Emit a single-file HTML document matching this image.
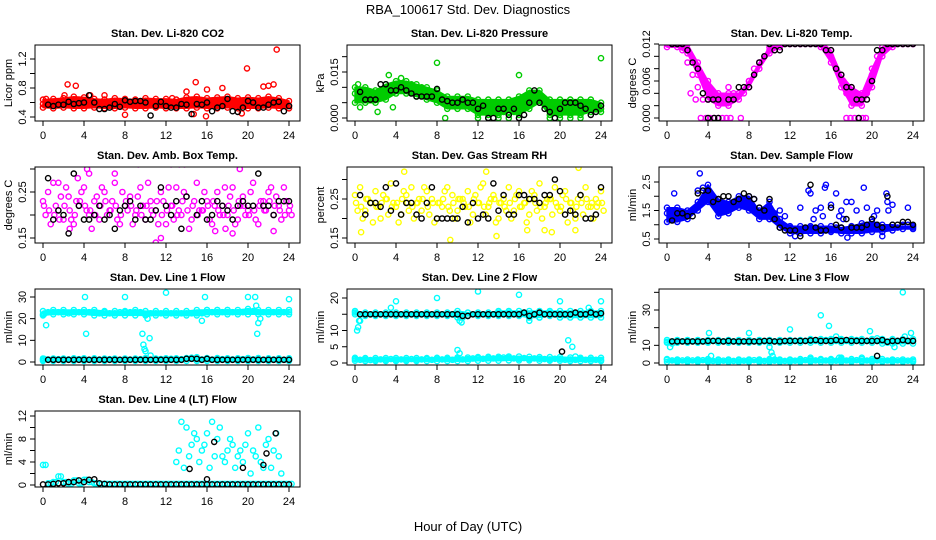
<!DOCTYPE html>
<html><head><meta charset="utf-8"><style>
html,body{margin:0;padding:0;background:#fff;}
svg{display:block;font-family:"Liberation Sans",Arial,sans-serif;}
</style></head><body>
<svg id="chart" width="936" height="540" viewBox="0 0 936 540" xmlns="http://www.w3.org/2000/svg">
<text x="468" y="14" text-anchor="middle" font-size="13">RBA_100617  Std. Dev. Diagnostics</text>
<text x="468" y="531" text-anchor="middle" font-size="13">Hour of Day (UTC)</text>
</svg>
<script>
// ---------- data ----------
const hourTicks = [0,4,8,12,16,20,24];
// P1 CO2
const co2Mid = [0.58,0.57,0.59,0.58,0.60,0.57,0.58,0.60,0.59,0.58,0.57,0.59,0.58,0.60,0.57,0.58,0.59,0.57,0.58,0.60,0.58,0.57,0.59,0.58,0.57,0.58,0.60,0.57,0.59,0.58,0.60,0.58,0.59,0.57,0.58,0.60,0.58,0.59,0.57,0.60,0.58,0.59,0.57,0.58,0.60,0.59,0.57,0.58,0.56];
const co2Hi = [0.64,0.65,0.66,0.68,0.67,0.65,0.64,0.66,0.65,0.64,0.66,0.65,0.65,0.64,0.67,0.68,0.66,0.67,0.68,0.66,0.67,0.66,0.68,0.66,0.62];
const co2Lo = [0.53,0.52,0.53,0.52,0.52,0.53,0.52,0.52,0.53,0.52,0.52,0.53,0.52,0.52,0.52,0.53,0.52,0.52,0.53,0.52,0.52,0.52,0.53,0.52,0.52];
const co2Out = [[2.4,0.85],[3.2,0.83],[14.9,0.88],[19.9,1.07],[22.8,1.33],[21.5,0.82],[22,0.83],[22.5,0.85],[17.5,0.8],[16,0.78],[14,0.75],[14.7,0.44],[15.9,0.41],[8,0.43],[4.6,0.7],[6,0.7],[0.3,0.65],[2.1,0.70],[12.6,0.66],[19.4,0.45]];
const co2Black = [null,0.57,0.55,0.57,0.57,0.61,0.58,0.59,0.60,0.70,0.60,0.51,0.51,0.53,0.58,0.54,0.63,0.61,0.62,0.62,0.60,0.42,0.55,0.61,0.55,0.53,0.53,0.58,0.57,0.44,0.58,0.57,0.60,0.48,0.53,0.55,0.65,0.48,0.47,0.53,0.62,0.60,0.53,0.53,0.57,0.60,0.61,0.48,0.55];
// P2 pressure
const presMid = [0.008,0.007,0.006,0.007,0.007,0.008,0.008,0.009,0.010,0.011,0.011,0.011,0.010,0.010,0.009,0.008,0.008,0.007,0.006,0.006,0.005,0.005,0.006,0.005,0.005,0.004,0.003,0.003,0.004,0.002,0.003,0.002,0.003,0.004,0.004,0.007,0.008,0.005,0.004,0.003,0.002,0.004,0.005,0.003,0.004,0.003,0.003,0.004,0.003];
const presHi = [0.010,0.010,0.009,0.011,0.012,0.012,0.011,0.010,0.009,0.007,0.007,0.007,0.006,0.006,0.006,0.006,0.007,0.009,0.009,0.006,0.006,0.006,0.006,0.006,0.005];
const presLo = [0.005,0.005,0.005,0.006,0.008,0.008,0.007,0.006,0.005,0.003,0.003,0.003,0.001,0.001,0.001,0.002,0.001,0.003,0.005,0.001,0.001,0.001,0.001,0.002,0.002];
const presOut = [[8,0.018],[16,0.014],[24,0.0195],[3.3,0.014],[2.2,0.002],[0.3,0.011],[0.5,0.0035],[8.8,0.0],[3.7,0.0035],[12,0],[13,0],[14,0],[15,0],[19,0],[20,0],[21,0],[22,0],[4.5,0.013]];
const presBlack = [null,0.0085,0.006,0.006,0.006,0.011,0.011,0.009,0.009,0.010,0.009,0.008,0.007,0.007,0.007,0.007,0.0095,0.006,0.0055,0.005,0.005,0.006,0.005,0.005,0.003,0.004,0.000,0.000,0.003,0.003,0.001,0.003,0.000,0.001,0.005,0.009,0.005,0.003,0.002,0.000,0.003,0.005,0.005,0.005,0.004,0.003,0.001,0.002,0.004];
// P3 Li-820 temp
const tempMid = [0.012,0.012,0.012,0.011,0.009,0.007,0.005,0.003,0.003,0.003,0.003,0.003,0.003,0.004,0.004,0.004,0.006,0.008,0.009,0.010,0.011,0.011,0.012,0.012,0.012,0.012,0.012,0.012,0.012,0.012,0.012,0.011,0.010,0.008,0.006,0.004,0.003,0.003,0.003,0.004,0.007,0.010,0.011,0.012,0.012,0.012,0.012,0.012,0.012];
const tempHi = [0.013,0.013,0.012,0.009,0.006,0.004,0.004,0.004,0.006,0.009,0.0115,0.0125,0.013,0.013,0.013,0.0125,0.011,0.007,0.005,0.004,0.008,0.0115,0.0125,0.013,0.013];
const tempLo = [0.0115,0.0115,0.0105,0.007,0.003,0.002,0.002,0.003,0.005,0.008,0.0105,0.0115,0.012,0.012,0.012,0.0115,0.009,0.005,0.002,0.002,0.005,0.010,0.0115,0.012,0.012];
const tempOut = [[3.3,0],[3.8,0],[4.2,0],[4.6,0],[5,0],[5.4,0],[5.8,0],[6.2,0],[7.2,0],[17.5,0],[17.9,0],[18.3,0],[18.7,0],[19.1,0],[19.4,0],[2.3,0.004],[2.8,0.003],[6,0.005],[17.2,0.006]];
const tempBlack = [null,0.012,0.012,0.012,0.011,0.009,0.008,0.004,0.003,0.003,0.003,null,0.003,0.003,0.005,0.005,0.005,0.007,0.009,0.010,0.012,0.011,0.011,0.012,0.012,0.012,0.012,0.012,0.012,0.012,0.012,0.011,0.011,0.008,0.007,0.005,0.005,0.003,0.003,0.003,0.006,0.011,0.011,0.012,0.012,0.012,0.012,0.012,0.012];
const tempBlackOut = [[4,0],[4.6,0],[5,0],[18.7,0]];
// P4 ambient box temp
const ambA = [0.23,0.25,0.27,0.21,0.19,0.24,0.18,0.22,0.26,0.20,0.23,0.19,0.25,0.21,0.27,0.18,0.22,0.24,0.20,0.26,0.19,0.23,0.21,0.25,0.18,0.22,0.26,0.20,0.24,0.19,0.27,0.21,0.23,0.18,0.25,0.22,0.20,0.26,0.19,0.24,0.21,0.27,0.18,0.23,0.25,0.20,0.22,0.26,0.21];
const ambB = [0.20,0.18,0.22,0.24,0.26,0.19,0.23,0.25,0.21,0.17,0.24,0.26,0.20,0.23,0.19,0.25,0.21,0.18,0.24,0.22,0.27,0.20,0.18,0.23,0.26,0.19,0.21,0.25,0.17,0.23,0.21,0.25,0.19,0.22,0.20,0.26,0.24,0.18,0.22,0.20,0.25,0.19,0.23,0.21,0.26,0.24,0.19,0.23,0.20];
const ambC = [0.22,0.21,0.20,0.19,0.22,0.21,0.20,0.23,0.22,0.21,0.20,0.22,0.23,0.21,0.22,0.20,0.23,0.22,0.21,0.20,0.22,0.21,0.23,0.20,0.21,0.22,0.20,0.23,0.21,0.22,0.20,0.21,0.22,0.23,0.21,0.20,0.22,0.21,0.23,0.22,0.20,0.21,0.22,0.21,0.23,0.22,0.21,0.20,0.22];
const ambOut = [[2.6,0.17],[4.3,0.30],[4.5,0.29],[9.3,0.31],[11,0.14],[11.5,0.15],[12.5,0.31],[13.3,0.31],[13.8,0.31],[22,0.32],[19.2,0.30],[22.5,0.165],[16.8,0.165],[17.8,0.17],[18.5,0.16],[7,0.29],[1.5,0.27],[3.4,0.28]];
const ambBlack = [null,0.28,0.19,0.21,0.20,0.16,0.29,0.22,0.19,0.19,0.20,0.22,0.19,0.20,0.17,0.21,0.22,0.23,0.19,0.22,0.19,0.19,0.21,0.26,0.22,0.20,0.23,0.17,0.24,null,0.20,0.23,0.19,0.20,0.23,0.22,0.21,0.19,0.22,0.23,0.22,0.22,0.29,0.22,0.22,0.20,0.23,0.23,0.23];
// P5 gas stream RH
const rhA = [0.26,0.28,0.22,0.24,0.27,0.20,0.25,0.29,0.23,0.21,0.26,0.28,0.24,0.22,0.27,0.25,0.20,0.23,0.28,0.26,0.22,0.25,0.27,0.21,0.24,0.29,0.23,0.26,0.20,0.25,0.28,0.22,0.27,0.24,0.21,0.26,0.29,0.23,0.25,0.28,0.22,0.27,0.24,0.20,0.26,0.28,0.23,0.25,0.27];
const rhB = [0.22,0.20,0.25,0.19,0.23,0.26,0.21,0.24,0.19,0.27,0.22,0.20,0.25,0.28,0.21,0.19,0.24,0.27,0.22,0.20,0.25,0.23,0.19,0.26,0.28,0.21,0.25,0.19,0.24,0.22,0.20,0.26,0.23,0.19,0.27,0.22,0.20,0.25,0.21,0.23,0.26,0.19,0.22,0.25,0.21,0.23,0.20,0.24,0.22];
const rhC = [0.24,0.23,0.25,0.24,0.23,0.24,0.25,0.23,0.24,0.25,0.24,0.23,0.24,0.25,0.23,0.24,0.24,0.25,0.23,0.24,0.25,0.24,0.23,0.25,0.24,0.23,0.24,0.25,0.24,0.23,0.24,0.25,0.23,0.24,0.25,0.24,0.23,0.24,0.25,0.24,0.23,0.25,0.24,0.23,0.24,0.25,0.24,0.23,0.24];
const rhOut = [[0.6,0.165],[9.3,0.145],[13.8,0.155],[16.8,0.17],[17,0.34],[20,0.35],[21.8,0.33],[4.8,0.32],[12.8,0.32],[18.5,0.17],[19.2,0.165],[21.5,0.17]];
const rhBlack = [null,0.26,0.21,0.24,0.24,0.23,0.28,0.22,0.29,0.21,0.24,0.24,0.21,0.20,0.24,0.28,0.20,0.20,0.20,0.20,0.20,0.23,0.19,0.24,0.20,0.21,0.20,0.29,0.22,0.26,0.21,0.21,0.26,0.26,0.25,0.25,0.24,0.26,0.26,0.30,0.27,0.21,0.22,0.21,0.26,0.20,0.20,0.21,0.28];
// P6 sample flow
const sfMid = [1.4,1.3,1.3,1.3,1.4,1.5,2.2,2.3,2.1,1.9,1.6,1.7,1.6,1.8,1.9,1.8,1.7,1.9,1.6,1.3,1.2,1.4,1.5,1.3,0.9,0.8,0.8,0.8,0.9,0.8,0.8,0.8,0.8,0.9,0.8,0.8,0.8,0.8,0.9,0.9,1.0,1.0,0.9,0.9,0.9,0.9,1.0,1.0,0.9];
const sfHi = [1.6,1.6,1.5,1.8,2.4,1.9,1.8,2.0,2.0,1.5,1.8,1.2,0.95,0.95,0.95,0.95,0.95,0.9,0.95,1.05,1.1,1.0,1.0,0.95,0.95];
const sfLo = [1.1,1.1,1.2,1.5,1.8,1.3,1.4,1.6,1.5,1.2,1.2,0.9,0.7,0.7,0.7,0.7,0.75,0.7,0.7,0.7,0.75,0.75,0.8,0.85,0.85];
const sfOut = [[3.2,2.8],[13.8,2.2],[14,2.1],[15.5,2.4],[15.4,2.3],[16.5,2.1],[17.5,1.8],[18,1.8],[19.2,2.3],[21.4,2.1],[21.5,1.8],[22,1.7],[23.5,1.6],[14.5,1.5],[15,1.6],[13,1.6],[16,1.7],[18.5,1.5],[19.5,1.6],[20.5,1.5],[21.6,1.5],[16.8,1.3],[17,1.5],[0.7,2.1],[14.3,1.2],[15.2,1.3],[17.2,1.2],[20.2,1.3],[17.6,0.55],[12.5,0.6],[21,0.6]];
const sfBlack = [null,1.15,1.4,1.4,1.3,1.3,2.1,2.2,2.2,1.8,1.9,2.0,2.0,1.8,1.9,2.1,2.0,1.9,1.6,1.5,1.9,1.2,0.9,0.8,0.8,0.8,0.6,0.9,2.4,0.9,0.8,0.8,1.6,1.0,0.9,1.2,0.9,0.9,0.9,1.0,1.2,1.0,0.9,2.0,1.0,1.0,1.1,1.1,1.0];
// P7 line 1 flow
const l1Up = [22,23,23,23,23,22.5,23,23,23,23,23,22.5,23,22.5,22.5,23,23,23,23,23,22,22.5,22.5,22.5,22.5,22.5,22.5,22.5,22.5,22.5,22.5,22.5,23,23,23,23,23,23,23,23,23.5,23.5,23,23,23,23,23,23,23];
const l1Hi = [23.5,24,24,24,24,24,23.5,23.5,23.5,24,23.5,23.5,23.5,23.5,23.5,24,24,24,24,24,24.5,24,24,24,24];
const l1Lo = [21.5,22,22,22,22,21.5,21.5,21.5,21.5,21.5,21.5,21.5,21.5,21.5,21.5,21.5,22,22,22,22,22,22,22,22,22];
const l1LowHi = [1.6,1.6,1.6,1.7,1.7,1.7,1.6,1.6,1.6,1.6,1.8,1.6,1.7,1.7,1.8,2.2,1.8,1.8,1.7,1.7,1.8,1.8,1.7,1.7,1.7];
const l1LowLo = [0.5,0.5,0.5,0.5,0.5,0.5,0.5,0.5,0.5,0.5,0.5,0.5,0.5,0.5,0.5,0.5,0.5,0.5,0.5,0.5,0.5,0.5,0.5,0.5,0.5];
const l1Low = [1,1.2,1,1.3,1,1.2,1,1.3,1.1,1,1.2,1.1,1,1.3,1.1,1,1.2,1.1,1,1.3,1.1,1,1.2,1.4,1,1.5,1.1,1.3,1.6,2,1.3,1.2,1.4,1.1,1.2,1.3,1,1.2,1.1,1.3,1,1.2,1.1,1,1.2,1.1,1.3,1,1.1];
const l1Out = [[0.3,17],[4.1,30],[4.2,13],[8,30],[9.7,13],[9.8,8],[9.9,6],[10,5],[10.2,20],[10.4,11],[10.5,3],[12,32],[15.5,19],[15.8,30],[20,30],[20.7,30],[20.8,26],[20.9,13],[21,18],[21.2,20],[24,29],[16,24],[17,24],[18,24],[0.1,22],[0.1,1.5]];
const l1Black = [null,1,1,1,1,1,1,1,1,1,1,1,1,1,1,1,1,1,1,1,1,1,1,1,1,1,1,1,1.5,1.5,1.5,1,1.5,1,1,1,1,1,1,1,1,1,1,1,1,1,1,1,1];
// P8 line 2 flow
const l2Up = [15.5,13,15,15,15,15,15,15,15,15,15,15,15,15,15,15,15,15,15,15,15,14,14.5,15,15,15,15,15,15.5,15,15.5,15,15,15.5,14,15,15,15,15.5,15,15,15,15,15,15,15,15.5,15,15];
const l2Hi = [16,15.5,15.5,15.5,15.5,15.5,15.5,15.5,15.5,15.5,16,15.5,15.5,15.5,16,16,16,16,16,16,16,16,16,16,16];
const l2Lo = [15,14.5,14.5,14.5,14.5,14.5,14.5,14.5,14.5,14.5,14,14.5,14.5,14.5,14.5,14.5,14.5,14,14,14.5,14,14,14,14,14];
const l2LowHi = [1.6,1.5,1.5,1.5,1.5,1.5,1.5,1.5,1.6,1.6,1.7,1.7,1.8,1.9,1.9,2.0,2.0,1.9,1.8,1.8,1.8,1.7,1.6,1.6,1.6];
const l2LowLo = [0.7,0.6,0.6,0.6,0.6,0.6,0.6,0.6,0.6,0.6,0.6,0.6,0.7,0.7,0.7,0.8,0.8,0.8,0.7,0.7,0.7,0.6,0.6,0.6,0.6];
const l2Low = [1.2,1,1.1,0.9,1,1.1,1,1.2,1,1.1,1,1.2,1,1.1,1.2,1,1.3,1.1,1.2,1,1.3,1.1,1.2,1.4,1.5,1.3,1.6,1.4,1.5,1.7,1.6,1.4,1.3,1.5,1.2,1.4,1.3,1.2,1.1,1.3,1.2,1,1.1,1,1.2,1,1.1,1,1];
const l2Out = [[0.2,10],[0.3,11],[0.4,13],[4,19],[3.5,17],[8,20],[10.2,13],[10.4,12.5],[10,4],[10.2,3],[12,22],[16,21],[20,19],[20.8,7],[21.2,5],[21.5,2],[22.8,17],[24,19],[17,13],[18,14]];
const l2Black = [null,15,15,15,15,15,15,15,15,15,15,15,15,15,15,15,15,15,15,15,15,14.5,14.5,15,15,15,15,15,15,15,15,15,15,15.5,14.5,15,15.5,15,15,15,15,15,15,15.5,15,15,15.5,15,15.3];
const l2BlackOut = [[20.2,3.5]];
// P9 line 3 flow
const l3Up = [12,12.2,12.2,12.2,12.2,12.2,12.2,12.2,12.2,12.5,12.2,12.2,12.2,12.2,12.2,12.2,12.2,12.2,12.5,12.2,12.5,12.2,12.2,12.2,12.5,12.5,12.5,12.5,12.5,12.5,12.5,13,12.5,12.5,12.8,12.5,12.5,13,12.5,12.5,12.5,12.5,12.5,11.5,12.5,12.5,13,12.5,12.5];
const l3Hi = [13,13,13,13,13,13,13,13,13,13,13,13,13,13,13.5,13.5,13.5,13.5,13.5,13.5,13.5,13.5,13.5,13.5,13.5];
const l3Lo = [11.5,11.5,11.5,11.5,11.5,11.5,11.5,11.5,11.5,11.5,11.5,11.5,11.5,11.5,11.5,11.5,11.5,11.5,11.5,11.5,11.5,11,11,11,11];
const l3LowHi = [2.2,2.0,2.0,2.0,2.2,2.0,2.0,2.0,2.0,2.0,2.2,2.0,2.0,2.2,2.2,2.2,2.2,2.2,2.2,2.2,2.2,2.2,2.0,2.0,2.0];
const l3LowLo = [0.6,0.6,0.6,0.6,0.6,0.6,0.6,0.6,0.6,0.6,0.6,0.6,0.6,0.6,0.6,0.6,0.6,0.6,0.6,0.6,0.6,0.6,0.6,0.6,0.6];
const l3Low = [1.8,1.5,1.3,1.5,1.2,1.5,1.3,1.6,1.4,1.2,1.5,1.3,1.4,1.2,1.5,1.3,1.4,1.6,1.3,1.2,1.5,1.3,1.4,1.2,1.5,1.3,1.4,1.6,1.3,1.5,1.7,1.4,1.6,1.3,1.5,1.4,1.3,1.6,1.2,1.4,1.3,1.5,1.2,1.4,1.3,1.5,1.2,1.3,1.2];
const l3Out = [[0.3,9],[0.5,11],[4.1,17],[8,17],[10,9],[10.2,6],[10.3,4],[10.5,2],[12,19],[15,27],[15.8,21],[16.5,15],[19.8,18],[20.5,14],[21.5,12],[22.2,9],[23,40],[23.2,15],[23.8,17],[4.3,4],[14,3],[16.8,3],[17,3],[19,3],[20.5,4]];
const l3Black = [null,12.2,12.2,12.2,12.2,12.2,12.2,12.2,12.5,12.5,12.5,12.2,12.5,12.2,12.2,12.2,12.2,12.2,12.2,12.5,12.5,12.2,12.2,12.5,12.5,12.5,12.5,12.5,12.8,13,12.5,12.5,12.5,13,12.5,13,12.5,12.5,12.5,12.5,12.5,12.5,13,12,12.5,12.5,13,12.5,12.5];
const l3BlackOut = [[20.5,4]];
// P10 line 4 (LT) flow
const l4Low = [3.5,0.3,0.5,1.5,0.5,0.2,0.8,0.3,0.9,0.5,0.3,0.2,0.2,0.2,0.2,0.2,0.2,0.2,0.2,0.2,0.2,0.2,0.2,0.2,0.2,0.2,0.2,0.2,0.2,0.2,0.2,0.2,0.2,0.2,0.2,0.2,0.2,0.2,0.2,0.2,0.2,0.2,0.2,0.2,0.2,0.2,0.2,0.2,0.2];
const l4A = [4,11,10,7,8,6,9,11,8,5,6,7,5,4,9,6,10,3,8,6,5];
const l4B = [6,3,5,9,4,7,3,5,10,4,8,3,6,7,2,5,4,7,3,9,2];
const l4Black = [0.1,0.1,0.2,0.3,0.3,0.5,0.5,0.8,0.5,0.9,1,0.3,0.2,0.1,0.1,0.1,0.1,0.1,0.1,0.1,0.1,0.1,0.1,0.1,0.1,0.1,0.1,0.1,0.1,0.1,0.1,0.1,0.1,0.1,0.1,0.1,0.1,0.1,0.1,0.1,0.1,0.1,0.1,0.1,0.1,0.1,0.1,0.1,0.1];
const l4BlackOut = [[14.3,2.8],[16.7,7.5],[16,1],[19.5,3],[21.5,3.5],[22.7,9],[21.8,5.5]];

// ---------- rendering ----------
const NS = 'http://www.w3.org/2000/svg';
const svg = document.getElementById('chart');
function mk(tag, attrs, parent){const e=document.createElementNS(NS,tag);for(const k in attrs)e.setAttribute(k,attrs[k]);(parent||svg).appendChild(e);return e;}

const panels = [
 {key:'co2',col:0,row:0,title:'Stan. Dev. Li-820 CO2',ylab:'Licor ppm',va:0.4,pa:117,vb:1.2,pb:59,ticks:[0.4,0.6,0.8,1.0,1.2],labels:[0.4,0.8,1.2],dec:1,color:'#ff0000',
  series:[{v:co2Mid,t0:0,step:0.5}],bands:[{hi:co2Hi,lo:co2Lo}],out:co2Out,black:co2Black,bout:[]},
 {key:'pressure',col:1,row:0,title:'Stan. Dev. Li-820 Pressure',ylab:'kPa',va:0,pa:118,vb:0.015,pb:72,ticks:[0,0.005,0.01,0.015,0.02],labels:[0,0.015],dec:3,color:'#00cc00',
  series:[{v:presMid,t0:0,step:0.5}],bands:[{hi:presHi,lo:presLo}],out:presOut,black:presBlack,bout:[]},
 {key:'li820-temp',col:2,row:0,title:'Stan. Dev. Li-820 Temp.',ylab:'degrees C',va:0,pa:118,vb:0.012,pb:44,ticks:[0,0.002,0.004,0.006,0.008,0.01,0.012],labels:[0,0.006,0.012],dec:3,color:'#ff00ff',
  series:[{v:tempMid,t0:0,step:0.5}],bands:[{hi:tempHi,lo:tempLo}],out:tempOut,black:tempBlack,bout:tempBlackOut},
 {key:'amb-box-temp',col:0,row:1,title:'Stan. Dev. Amb. Box Temp.',ylab:'degrees C',va:0.15,pa:238,vb:0.25,pb:192,ticks:[0.15,0.2,0.25,0.3],labels:[0.15,0.25],dec:2,color:'#ff00ff',
  series:[{v:ambA,t0:0,step:0.5},{v:ambB,t0:0.25,step:0.5},{v:ambC,t0:0.1,step:0.5}],bands:[],out:ambOut,black:ambBlack,bout:[]},
 {key:'gas-stream-rh',col:1,row:1,title:'Stan. Dev. Gas Stream RH',ylab:'percent',va:0.15,pa:238,vb:0.25,pb:199,ticks:[0.15,0.2,0.25,0.3],labels:[0.15,0.25],dec:2,color:'#ffff00',
  series:[{v:rhA,t0:0,step:0.5},{v:rhB,t0:0.25,step:0.5},{v:rhC,t0:0.1,step:0.5}],bands:[],out:rhOut,black:rhBlack,bout:[]},
 {key:'sample-flow',col:2,row:1,title:'Stan. Dev. Sample Flow',ylab:'ml/min',va:0.5,pa:239,vb:2.5,pb:182,ticks:[0.5,1,1.5,2,2.5],labels:[0.5,1.5,2.5],dec:1,color:'#0000ff',
  series:[{v:sfMid,t0:0,step:0.5}],bands:[{hi:sfHi,lo:sfLo}],out:sfOut,black:sfBlack,bout:[]},
 {key:'line1-flow',col:0,row:2,title:'Stan. Dev. Line 1 Flow',ylab:'ml/min',va:0,pa:362,vb:30,pb:297,ticks:[0,10,20,30],labels:[0,10,20,30],dec:0,color:'#00ffff',
  series:[{v:l1Up,t0:0,step:0.5},{v:l1Low,t0:0,step:0.5}],bands:[{hi:l1Hi,lo:l1Lo},{hi:l1LowHi,lo:l1LowLo}],out:l1Out,black:l1Black,bout:[]},
 {key:'line2-flow',col:1,row:2,title:'Stan. Dev. Line 2 Flow',ylab:'ml/min',va:0,pa:363,vb:20,pb:298,ticks:[0,5,10,15,20],labels:[0,5,10,20],dec:0,color:'#00ffff',
  series:[{v:l2Up,t0:0,step:0.5},{v:l2Low,t0:0,step:0.5}],bands:[{hi:l2Hi,lo:l2Lo},{hi:l2LowHi,lo:l2LowLo}],out:l2Out,black:l2Black,bout:l2BlackOut},
 {key:'line3-flow',col:2,row:2,title:'Stan. Dev. Line 3 Flow',ylab:'ml/min',va:0,pa:363,vb:30,pb:310,ticks:[0,10,20,30,40],labels:[0,10,30],dec:0,color:'#00ffff',
  series:[{v:l3Up,t0:0,step:0.5},{v:l3Low,t0:0,step:0.5}],bands:[{hi:l3Hi,lo:l3Lo},{hi:l3LowHi,lo:l3LowLo}],out:l3Out,black:l3Black,bout:l3BlackOut},
 {key:'line4-flow',col:0,row:3,title:'Stan. Dev. Line 4 (LT) Flow',ylab:'ml/min',va:0,pa:485,vb:12,pb:416,ticks:[0,2,4,6,8,10,12],labels:[0,4,8,12],dec:0,color:'#00ffff',
  series:[{v:l4Low,t0:0,step:0.5},{v:l4Low,t0:0.25,step:0.5},{v:l4A,t0:13,step:0.5},{v:l4B,t0:13.25,step:0.5}],bands:[],out:[],black:l4Black,bout:l4BlackOut}
];

function circle(g,cx,cy,color){
  const c=mk('circle',{cx:cx.toFixed(1),cy:cy.toFixed(1),r:2.6,fill:'none',stroke:color,'stroke-width':1.4},g);
  
  
}

panels.forEach(p=>{
  const cx0=p.col*312, top=45+122*p.row, bottom=121+122*p.row;
  const left=cx0+35, right=cx0+300;
  const xs=t=>cx0+43+t*(246/24);
  const ys=v=>p.pa+(v-p.va)*(p.pb-p.pa)/(p.vb-p.va);
  const g=mk('g',{});
  
  
  const ttl=mk('text',{x:(left+right)/2,y:top-8,'text-anchor':'middle','font-size':11,'font-weight':'bold'},g);
  ttl.textContent=p.title;
  
  
  const yl=mk('text',{x:0,y:0,'text-anchor':'middle','font-size':11,transform:`translate(${cx0+12},${(top+bottom)/2}) rotate(-90)`},g);
  yl.textContent=p.ylab;
  
  
  const cid='clip-'+p.key;
  const cp=mk('clipPath',{id:cid},g);
  mk('rect',{x:left,y:top,width:right-left,height:bottom-top},cp);
  const data=mk('g',{'clip-path':`url(#${cid})`},g);
  
  
  p.bands.forEach(band=>{
    let pts=[];
    band.hi.forEach((v,i)=>pts.push(xs(i).toFixed(1)+','+ys(v).toFixed(1)));
    for(let i=band.lo.length-1;i>=0;i--)pts.push(xs(i).toFixed(1)+','+ys(band.lo[i]).toFixed(1));
    const b=mk('polygon',{points:pts.join(' '),fill:p.color,stroke:p.color,'stroke-width':1.5,'stroke-linejoin':'round'},data);
    
    
    band.hi.forEach((v,i)=>circle(data,xs(i),ys(v),p.color));
    band.lo.forEach((v,i)=>circle(data,xs(i),ys(v),p.color));
  });
  p.series.forEach(s=>s.v.forEach((v,i)=>{if(v!==null)circle(data,xs(s.t0+i*s.step),ys(v),p.color);}));
  p.out.forEach(o=>circle(data,xs(o[0]),ys(o[1]),p.color));
  p.black.forEach((v,i)=>{if(v!==null)circle(data,xs(i*0.5),ys(v),'#000');});
  p.bout.forEach(o=>circle(data,xs(o[0]),ys(o[1]),'#000'));
  const box=mk('rect',{x:left,y:top,width:right-left,height:bottom-top,fill:'none',stroke:'#000','stroke-width':1},g);
  
  
  mk('line',{x1:xs(0),x2:xs(24),y1:bottom,y2:bottom,stroke:'#000'},g);
  hourTicks.forEach(t=>{
    mk('line',{x1:xs(t),x2:xs(t),y1:bottom,y2:bottom+5,stroke:'#000'},g);
    const tl=mk('text',{x:xs(t),y:bottom+18,'text-anchor':'middle','font-size':11},g);
    tl.textContent=t;
    
    
  });
  p.ticks.forEach(v=>{
    const y=ys(v); if(y<top-1||y>bottom+1)return;
    mk('line',{x1:left-5,x2:left,y1:y,y2:y,stroke:'#000'},g);
  });
  p.labels.forEach(v=>{
    const y=ys(v);
    const tl=mk('text',{x:0,y:0,'text-anchor':'middle','font-size':11,transform:`translate(${left-9},${y}) rotate(-90)`},g);
    tl.textContent=v.toFixed(p.dec);
    
    
  });
});
</script>
</body></html>
